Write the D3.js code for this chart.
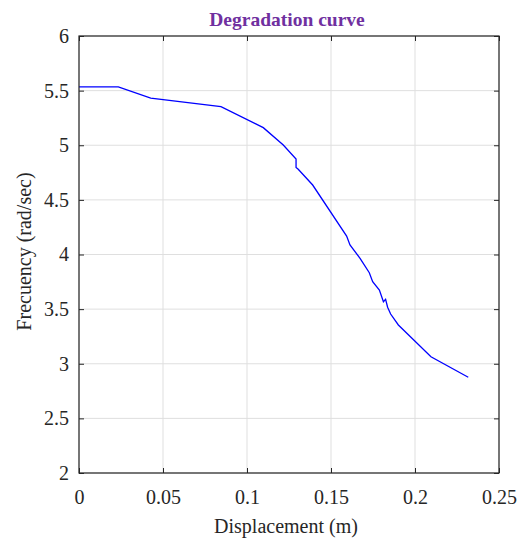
<!DOCTYPE html>
<html><head><meta charset="utf-8">
<script src="https://cdn.jsdelivr.net/npm/d3@7"></script>
<style>body{margin:0;background:#fff} svg text{font-family:"Liberation Serif","Times New Roman",serif !important;}</style>
</head><body>
<script>
const displacement = [0, 0.0234, 0.0427, 0.0845, 0.1097, 0.1216, 0.1292, 0.1292, 0.1305, 0.1391, 0.1593, 0.1613, 0.1673, 0.1728, 0.1748, 0.1788, 0.1812, 0.1825, 0.1837, 0.1855, 0.1901, 0.2095, 0.2317];
const frequency    = [5.535, 5.535, 5.432, 5.353, 5.161, 5.002, 4.874, 4.797, 4.78, 4.636, 4.169, 4.087, 3.965, 3.833, 3.751, 3.675, 3.568, 3.590, 3.517, 3.455, 3.355, 3.064, 2.876];
const xTicks = [0, 0.05, 0.1, 0.15, 0.2, 0.25];
const yTicks = [2, 2.5, 3, 3.5, 4, 4.5, 5, 5.5, 6];
const titleText = "Degradation curve";
const xLabel = "Displacement (m)";
const yLabel = "Frecuency (rad/sec)";

const W = 523, H = 538;
const m = {left: 79, right: 24, top: 36, bottom: 65};
const pw = W - m.left - m.right, ph = H - m.top - m.bottom;
const FONT = "Liberation Serif, Times New Roman, serif";
const svg = d3.select("body").append("svg").attr("width", W).attr("height", H)
  .attr("font-family", FONT);
const g = svg.append("g").attr("transform", `translate(${m.left},${m.top})`);
const x = d3.scaleLinear().domain([0, 0.25]).range([0, pw]);
const y = d3.scaleLinear().domain([2, 6]).range([ph, 0]);

// grid
g.append("g").selectAll("line").data(xTicks).join("line")
  .attr("x1", d => x(d)).attr("x2", d => x(d)).attr("y1", 0).attr("y2", ph)
  .attr("stroke", "#dfdfdf").attr("stroke-width", 1);
g.append("g").selectAll("line").data(yTicks).join("line")
  .attr("y1", d => y(d)).attr("y2", d => y(d)).attr("x1", 0).attr("x2", pw)
  .attr("stroke", "#dfdfdf").attr("stroke-width", 1);

// line
g.append("path").datum(displacement.map((d, i) => [d, frequency[i]]))
  .attr("fill", "none").attr("stroke", "#0000ff").attr("stroke-width", 1.3)
  .attr("d", d3.line().x(d => x(d[0])).y(d => y(d[1])));

// axes
const fmt = d => String(d);
const styleAxis = sel => {
  sel.attr("font-family", FONT).attr("font-size", 20);
  sel.select(".domain").remove();
  sel.selectAll(".tick line").attr("stroke", "#262626");
  sel.selectAll(".tick text").attr("fill", "#262626");
};
g.append("g").attr("transform", `translate(0,${ph})`)
  .call(d3.axisBottom(x).tickValues(xTicks).tickFormat(fmt).tickSizeInner(-5).tickSizeOuter(0).tickPadding(17))
  .call(styleAxis);
g.append("g")
  .call(d3.axisLeft(y).tickValues(yTicks).tickFormat(fmt).tickSizeInner(-5).tickSizeOuter(0).tickPadding(10))
  .call(styleAxis);
g.append("g")
  .call(d3.axisTop(x).tickValues(xTicks).tickFormat("").tickSizeInner(-5).tickSizeOuter(0))
  .call(styleAxis);
g.append("g").attr("transform", `translate(${pw},0)`)
  .call(d3.axisRight(y).tickValues(yTicks).tickFormat("").tickSizeInner(-5).tickSizeOuter(0))
  .call(styleAxis);

g.append("rect").attr("width", pw).attr("height", ph).attr("fill", "none")
  .attr("stroke", "#262626").attr("stroke-width", 1.2);

// labels
svg.append("text").attr("x", m.left + pw / 2 - 2).attr("y", 26).attr("text-anchor", "middle")
  .attr("fill", "#7030a0").attr("font-weight", "bold").attr("font-size", 19.5).text(titleText);
svg.append("text").attr("x", m.left + pw / 2 - 3).attr("y", 533).attr("text-anchor", "middle")
  .attr("fill", "#262626").attr("font-size", 20).text(xLabel);
svg.append("text").attr("transform", `translate(31,${m.top + ph / 2 - 3}) rotate(-90)`)
  .attr("text-anchor", "middle").attr("fill", "#262626").attr("font-size", 20).text(yLabel);
</script>
</body></html>
